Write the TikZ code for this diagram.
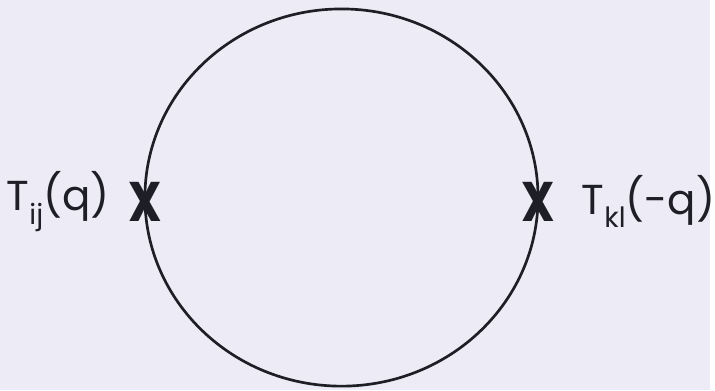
\documentclass[tikz,border=0pt]{standalone}
\usepackage{fontspec}
\setmainfont{Poppins}
\usetikzlibrary{positioning}
\definecolor{slidebg}{RGB}{236,235,246}
\definecolor{loopline}{RGB}{30,30,38}

\tikzset{
  insertion/.style={inner sep=0pt,text=loopline,font=\fontsize{48}{48}\selectfont\bfseries},
  oplabel/.style={inner sep=0pt,text=loopline,font=\fontsize{36}{36}\selectfont}
}
\newcommand{\lowsub}[1]{\raisebox{-0.32em}{\fontsize{24}{24}\selectfont #1}}

\begin{document}
\begin{tikzpicture}[x=0.03cm,y=-0.03cm]
    % Background
    \fill[slidebg] (0,0) rectangle (715,393);

    % Loop
    \draw[loopline,line width=2.3pt] (344,199) ellipse [x radius=198, y radius=190];

    % Operator insertions
    \node[insertion] (insL) at (146,203) {\scalebox{0.84}[1]{X}};
    \node[insertion] (insR) at (542,203) {\scalebox{0.84}[1]{X}};

    % Labels
    \node[oplabel,left=0.55cm of insL] (Tij) {T\lowsub{ij}(q)};
    \node[oplabel,right=0.8cm of insR] (Tkl) {T\lowsub{kl}(-q)};
\end{tikzpicture}
\end{document}
